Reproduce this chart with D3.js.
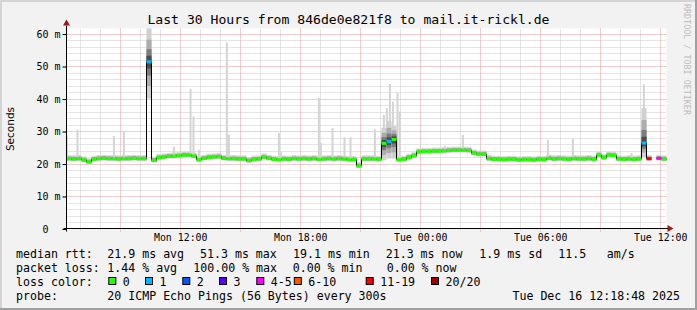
<!DOCTYPE html>
<html><head><meta charset="utf-8">
<script src="https://cdn.jsdelivr.net/npm/d3@7"></script>
<style>html,body{margin:0;padding:0;background:#f2f2f2}svg{display:block}text{white-space:pre}</style>
</head><body><svg id="c" width="697" height="310"></svg>
<script>
// ---------------- data ----------------
const titleText = "Last 30 Hours from 846de0e821f8 to mail.it-rickl.de";
const yAxisTitle = "Seconds";
const watermark = "RRDTOOL / TOBI OETIKER";
const startTime = new Date(2025, 11, 15, 6, 18, 48);
const endTime = new Date(2025, 11, 16, 12, 18, 48);
const stepMinutes = 15;
const upperLimit = 61.56; // ms
// median RTT (ms), one value per 15-minute step; null = no data
const medianRtt = [
 21.5,21.4,21.5,21.1,20.5,21.3,21.5,21.6,21.5,21.5,
 21.4,21.5,21.5,21.6,21.5,21.5,51.3,21.0,21.8,22.0,
 22.2,22.3,22.4,22.6,22.6,22.3,21.2,21.6,21.9,22.0,
 22.1,21.6,21.5,21.5,21.4,21.4,20.9,21.3,21.4,22.0,
 21.6,21.3,21.2,21.4,21.3,21.5,21.4,21.5,21.4,21.5,
 21.3,21.4,21.5,21.4,21.5,21.4,21.2,21.2,19.3,21.4,
 21.4,21.4,21.3,26.2,26.8,27.4,21.2,21.3,21.9,22.4,
 23.6,23.7,23.7,23.8,23.8,23.9,24.0,24.1,24.1,24.1,
 24.0,23.2,22.9,22.9,21.5,21.3,21.3,21.2,21.3,21.3,
 21.1,21.2,21.2,21.1,21.3,21.2,21.6,21.4,21.5,21.4,
 21.3,21.5,21.4,21.4,21.5,21.3,22.6,21.8,22.6,22.5,
 21.4,21.3,21.4,21.3,21.4,26.3,21.5,null,21.6,21.4
];
// lost pings (of 20) for the steps that had loss; all others 0
const lossSteps = [16, 64, 115, 116, 118];
const lossCounts = [1, 1, 1, 15, 4];
// steps with a wide ping spread (smoke), low/high ping in ms
const wideSteps = [16, 63, 64, 65, 115];
const wideLow = [40.0, 21.0, 21.5, 21.5, 22.0];
const wideHigh = [61.6, 31.0, 33.0, 31.5, 37.0];
// isolated slow pings: hours after start, highest ping (ms)
const spikeHours = [0.02,0.55,2.37,2.87,4.15,5.37,6.2,6.35,6.62,8.02,8.12,10.62,10.72,12.62,12.72,13.3,13.9,14.2,15.42,15.87,16.02,16.17,16.32,16.55,16.67,18.92,19.82,24.07,25.32,28.25,28.87];
const spikeTops  = [28.3,30.4,28.5,29.9,28.9,25.2,43.0,34.5,24.2,57.3,28.9,29.4,23.7,40.2,26.4,30.9,28.1,28.1,30.5,35.0,37.0,44.5,39.0,41.7,36.0,25.5,28.8,27.3,27.6,23.2,44.3];
const yTickValues = [0, 10, 20, 30, 40, 50, 60];
const lossLegendLabels = ["0", "1", "2", "3", "4-5", "6-10", "11-19", "20/20"];
const lossLegendColors = ["#26ff00", "#00b8ff", "#0059ff", "#5e00ff", "#ff00ff", "#ff5500", "#ff0000", "#a10000"];
const medianStats = ["21.9 ms avg", "51.3 ms max", "19.1 ms min", "21.3 ms now", "1.9 ms sd", "11.5", "am/s"];
const lossStats = ["1.44 % avg", "100.00 % max", "0.00 % min", "0.00 % now"];
const probeText = "20 ICMP Echo Pings (56 Bytes) every 300s";
const stampText = "Tue Dec 16 12:18:48 2025";

// ---------------- drawing ----------------
const W = 697, H = 310;
const X0 = 66.5, X1 = 666.5, Y0 = 228.5, Y1 = 28.5;
const mono = "'DejaVu Sans Mono', monospace";
const svg = d3.select('#c');
const x = d3.scaleTime().domain([startTime, endTime]).range([X0, X1]);
const y = d3.scaleLinear().domain([0, upperLimit]).range([Y0, Y1]);
const stepT = i => new Date(startTime.getTime() + i * stepMinutes * 60000);
const lossOf = i => { const k = lossSteps.indexOf(i); return k < 0 ? 0 : lossCounts[k]; };
const lossColor = n => n === 0 ? lossLegendColors[0] : n === 1 ? lossLegendColors[1] : n === 2 ? lossLegendColors[2] :
  n === 3 ? lossLegendColors[3] : n <= 5 ? lossLegendColors[4] : n <= 10 ? lossLegendColors[5] : n <= 19 ? lossLegendColors[6] : lossLegendColors[7];

// background + frame shading
svg.append('rect').attr('width', W).attr('height', H).attr('fill', '#f2f2f2');
svg.append('rect').attr('x', 0).attr('y', 0).attr('width', W).attr('height', 2).attr('fill', '#d4d4d4');
svg.append('rect').attr('x', 0).attr('y', 0).attr('width', 2).attr('height', H).attr('fill', '#d4d4d4');
svg.append('rect').attr('x', 0).attr('y', H - 2).attr('width', W).attr('height', 2).attr('fill', '#a0a0a0');
svg.append('rect').attr('x', W - 2).attr('y', 0).attr('width', 2).attr('height', H).attr('fill', '#a0a0a0');
// canvas
svg.append('rect').attr('x', X0).attr('y', Y1).attr('width', X1 - X0).attr('height', Y0 - Y1).attr('fill', '#ffffff');

// grid
const g = svg.append('g');
const minorY = d3.range(2, 61, 2).filter(v => v % 10 !== 0);
const majorY = yTickValues.filter(v => v > 0);
const hours = d3.timeHour.range(d3.timeHour.ceil(startTime), endTime);
g.selectAll('.hmin').data(minorY).join('line')
  .attr('x1', X0).attr('x2', X1).attr('y1', d => Math.round(y(d)) + 0.5).attr('y2', d => Math.round(y(d)) + 0.5)
  .attr('stroke', '#cbcbcb').attr('stroke-dasharray', '1,1');
g.selectAll('.vmin').data(hours.filter(h => h.getHours() % 3 !== 0)).join('line')
  .attr('x1', d => Math.round(x(d)) + 0.5).attr('x2', d => Math.round(x(d)) + 0.5).attr('y1', Y0 + 2).attr('y2', Y1)
  .attr('stroke', '#cbcbcb').attr('stroke-dasharray', '1,1');
g.selectAll('.hmaj').data(majorY).join('line')
  .attr('x1', X0 - 3).attr('x2', X1).attr('y1', d => Math.round(y(d)) + 0.5).attr('y2', d => Math.round(y(d)) + 0.5)
  .attr('stroke', '#e39a9a').attr('stroke-dasharray', '1,1');
g.selectAll('.vmaj').data(hours.filter(h => h.getHours() % 3 === 0)).join('line')
  .attr('x1', d => Math.round(x(d)) + 0.5).attr('x2', d => Math.round(x(d)) + 0.5).attr('y1', Y0 + 3).attr('y2', Y1)
  .attr('stroke', '#e39a9a').attr('stroke-dasharray', '1,1');

// smoke: base band around the median
const data = medianRtt.map((v, i) => ({ i, v, t0: stepT(i), t1: stepT(i + 1), loss: lossOf(i) })).filter(d => d.v !== null);
const smoke = svg.append('g');
smoke.selectAll('.b1').data(data).join('rect')
  .attr('x', d => x(d.t0)).attr('width', d => x(d.t1) - x(d.t0))
  .attr('y', d => y(d.v + 1.1)).attr('height', d => y(d.v - 0.7) - y(d.v + 1.1)).attr('fill', '#d8d8d8');
smoke.selectAll('.b2').data(data).join('rect')
  .attr('x', d => x(d.t0)).attr('width', d => x(d.t1) - x(d.t0))
  .attr('y', d => y(d.v + 0.7)).attr('height', d => y(d.v - 0.5) - y(d.v + 0.7)).attr('fill', '#a4a4a4');
// isolated spikes
smoke.selectAll('.sp').data(spikeHours.map((h, k) => ({ h, top: spikeTops[k] }))).join('rect')
  .attr('x', d => x(new Date(startTime.getTime() + d.h * 3600000)) - 1).attr('width', 2)
  .attr('y', d => y(d.top))
  .attr('height', d => { const m = medianRtt[Math.min(119, Math.floor(d.h * 60 / stepMinutes))] || 21.4; return y(m) - y(d.top); })
  .attr('fill', '#d4d4d4');
// wide spreads
const layers = [[0, '#d0d0d0'], [0.35, '#acacac'], [0.65, '#7c7c7c'], [0.85, '#4c4c4c']];
wideSteps.forEach((s, k) => {
  const m = medianRtt[s];
  layers.forEach(([f, c]) => {
    const lo = wideLow[k] + (m - 0.4 - wideLow[k]) * f;
    const hi = wideHigh[k] + (m + 0.4 - wideHigh[k]) * f;
    smoke.append('rect').attr('x', x(stepT(s))).attr('width', x(stepT(s + 1)) - x(stepT(s)))
      .attr('y', y(hi)).attr('height', y(lo) - y(hi)).attr('fill', c);
  });
});

// median: black connecting step line
const pts = [];
medianRtt.forEach((v, i) => {
  if (v === null) { pts.push(null); return; }
  pts.push({ t: stepT(i), v });
  if (i === medianRtt.length - 1 || medianRtt[i + 1] === null) pts.push({ t: stepT(i + 1), v });
});
const line = d3.line().defined(d => d !== null).x(d => x(d.t)).y(d => y(d.v)).curve(d3.curveStepAfter);
svg.append('path').attr('d', line(pts)).attr('fill', 'none').attr('stroke', '#000').attr('stroke-width', 1);
// median: loss-coloured blocks
svg.append('g').selectAll('rect').data(data).join('rect')
  .attr('x', d => x(d.t0)).attr('width', d => x(d.t1) - x(d.t0))
  .attr('y', d => y(d.v) - 1.5).attr('height', 3).attr('fill', d => lossColor(d.loss));

// axes
const axisG = svg.append('g');
axisG.append('line').attr('x1', X0 - 3).attr('x2', X1 + 2).attr('y1', Y0).attr('y2', Y0).attr('stroke', '#000');
axisG.append('line').attr('x1', X0).attr('x2', X0).attr('y1', Y0 + 3).attr('y2', Y1 - 3).attr('stroke', '#000');
axisG.append('path').attr('d', `M${X1 + 1},${Y0 - 3.5}L${X1 + 7},${Y0}L${X1 + 1},${Y0 + 3.5}Z`).attr('fill', '#9b1b1b');
axisG.append('path').attr('d', `M${X0 - 3.5},${Y1 - 3}L${X0},${Y1 - 9}L${X0 + 3.5},${Y1 - 3}Z`).attr('fill', '#9b1b1b');

const xAxis = d3.axisBottom(x).ticks(d3.timeHour.every(6)).tickFormat(d3.timeFormat('%a %H:%M')).tickSize(0).tickPadding(0);
const xa = svg.append('g').attr('transform', `translate(0,${Y0})`).call(xAxis);
xa.select('.domain').remove();
xa.selectAll('text').attr('dy', null).attr('y', 12.5).attr('font-family', mono).attr('font-size', 9.9).attr('fill', '#000');

const yAxis = d3.axisLeft(y).tickValues(yTickValues).tickFormat(v => v === 0 ? '0  ' : v + ' m').tickSize(0).tickPadding(0);
const ya = svg.append('g').attr('transform', `translate(60.5,0)`).call(yAxis);
ya.select('.domain').remove();
ya.selectAll('text').attr('dy', '0.35em').attr('x', 0).attr('font-family', mono).attr('font-size', 10).attr('fill', '#000');
ya.selectAll('.tick').append('line').attr('x1', 2).attr('x2', 6).attr('y1', 0.5).attr('y2', 0.5).attr('stroke', '#000');

// titles
svg.append('text').attr('x', 348.5).attr('y', 23.5).attr('text-anchor', 'middle').attr('font-family', mono)
  .attr('font-size', 13.1).attr('fill', '#000').text(titleText);
svg.append('text').attr('transform', 'translate(14,129) rotate(-90)').attr('text-anchor', 'middle')
  .attr('font-family', "'DejaVu Sans', sans-serif").attr('font-size', 10.5).attr('fill', '#000').text(yAxisTitle);
svg.append('text').attr('transform', 'translate(683.5,4) rotate(90)').attr('font-family', mono)
  .attr('font-size', 8.4).attr('fill', '#bdbdbd').text(watermark);

// legend
const lf = 11.6;
const leg = svg.append('g').attr('font-family', mono).attr('font-size', lf).attr('fill', '#000');
const row1X = [107.3, 200, 293, 385.7, 479.3, 558.3, 606.7];
leg.append('text').attr('x', 16).attr('y', 257.5).text('median rtt:');
medianStats.forEach((s, k) => leg.append('text').attr('x', row1X[k]).attr('y', 257.5).text(s));
const row2X = [107.3, 193.3, 292.7, 386.7];
leg.append('text').attr('x', 16).attr('y', 271.5).text('packet loss:');
lossStats.forEach((s, k) => leg.append('text').attr('x', row2X[k]).attr('y', 271.5).text(s));
leg.append('text').attr('x', 16).attr('y', 285.5).text('loss color:');
const boxX = [108.3, 145, 182.3, 219, 256.3, 293.8, 365.7, 431];
lossLegendLabels.forEach((l, k) => {
  leg.append('rect').attr('x', boxX[k] + 0.5).attr('y', 277.5).attr('width', 7).attr('height', 7)
    .attr('fill', lossLegendColors[k]).attr('stroke', '#000').attr('stroke-width', 1);
  leg.append('text').attr('x', boxX[k] + 14.5).attr('y', 285.5).text(l);
});
leg.append('text').attr('x', 16).attr('y', 299.5).text('probe:');
leg.append('text').attr('x', 107.3).attr('y', 299.5).text(probeText);
leg.append('text').attr('x', 680).attr('y', 299.5).attr('text-anchor', 'end').text(stampText);
</script></body></html>
